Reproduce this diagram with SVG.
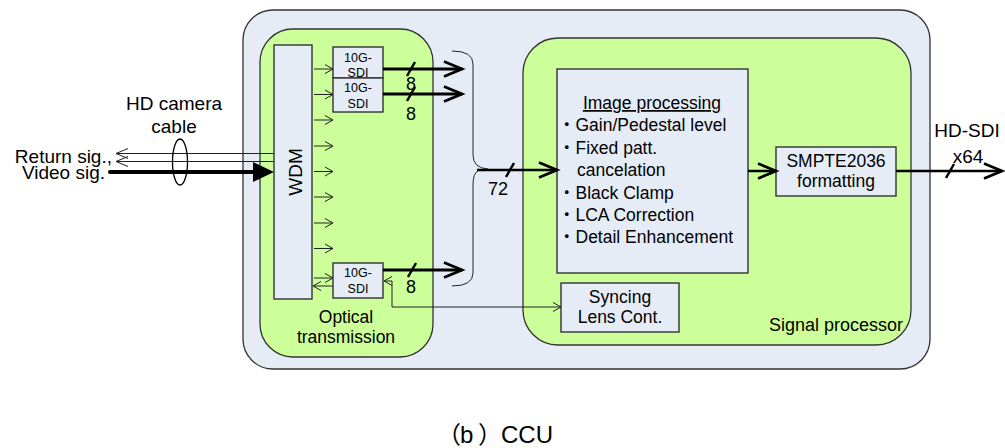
<svg xmlns="http://www.w3.org/2000/svg" width="1005" height="448" viewBox="0 0 1005 448">
<style>
.t{font-family:"Liberation Sans",Arial,"Noto Sans CJK JP",sans-serif;fill:#000}
.f17{font-size:17.5px}
.f19{font-size:19px}
.f18{font-size:18px}
.f12{font-size:12.5px}
.mid{text-anchor:middle}
.end{text-anchor:end}
.panel{fill:#E6ECF6;stroke:#333;stroke-width:1.3}
.green{fill:#CCFF99;stroke:#333;stroke-width:1.3}
.box{fill:#E6ECF6;stroke:#333;stroke-width:1.4}
.thin{stroke:#222;stroke-width:1;fill:none}
.thick{stroke:#000;stroke-width:3;fill:none}
.med{stroke:#000;stroke-width:2.5;fill:none}
.slash{stroke:#000;stroke-width:2.5;fill:none}
</style>
<defs>
<marker id="big" markerUnits="userSpaceOnUse" viewBox="-22 -11 24 22" markerWidth="24" markerHeight="22" refX="0" refY="0" orient="auto" overflow="visible">
<path d="M-18,-7.5 L0,0 L-18,7.5" fill="none" stroke="#000" stroke-width="2.8"/>
</marker>
<marker id="small" markerUnits="userSpaceOnUse" viewBox="-10 -6 12 12" markerWidth="12" markerHeight="12" refX="0" refY="0" orient="auto-start-reverse" overflow="visible">
<path d="M-8,-4.5 L0,0 L-8,4.5" fill="none" stroke="#222" stroke-width="1"/>
</marker>
<marker id="ret" markerUnits="userSpaceOnUse" viewBox="-14 -7 16 14" markerWidth="16" markerHeight="14" refX="0" refY="0" orient="auto" overflow="visible">
<path d="M-12,-5 L0,0 L-12,5" fill="none" stroke="#222" stroke-width="1"/>
</marker>
</defs>
<rect width="1005" height="448" fill="#fff"/>

<g id="ccu">
<rect class="panel" x="243" y="10" width="687" height="359" rx="30" ry="30"/>
</g>

<g id="optical-transmission">
<rect class="green" x="260" y="29" width="173" height="328" rx="33" ry="33"/>
<text class="t f17 mid" x="346" y="323">Optical</text>
<text class="t f17 mid" x="346" y="343">transmission</text>
</g>

<g id="signal-processor">
<rect class="green" x="523" y="38" width="388" height="307" rx="35" ry="35"/>
<text class="t f18 end" x="903" y="331">Signal processor</text>
</g>

<g id="wdm">
<rect class="box" x="274" y="45" width="38" height="254"/>
<text class="t f19 mid" transform="translate(302,172) rotate(-90)">WDM</text>
</g>

<g id="sdi1">
<rect class="box" x="333" y="47" width="50" height="31"/>
<text class="t f12 mid" x="358" y="62">10G-</text>
<text class="t f12 mid" x="358" y="76.5">SDI</text>
</g>
<g id="sdi2">
<rect class="box" x="333" y="78" width="50" height="34"/>
<text class="t f12 mid" x="358" y="92">10G-</text>
<text class="t f12 mid" x="358" y="107.5">SDI</text>
</g>
<g id="sdi3">
<rect class="box" x="333" y="263" width="50" height="35"/>
<text class="t f12 mid" x="358" y="277">10G-</text>
<text class="t f12 mid" x="358" y="293">SDI</text>
</g>

<g id="image-processing">
<rect class="box" x="557" y="69" width="191" height="204"/>
<text class="t f17 mid" x="652" y="109" text-decoration="underline">Image processing</text>
<text class="t f17" x="558" y="131.4">・Gain/Pedestal level</text>
<text class="t f17" x="558" y="153.8">・Fixed patt.</text>
<text class="t f17" x="577" y="176.2">cancelation</text>
<text class="t f17" x="558" y="198.6">・Black Clamp</text>
<text class="t f17" x="558" y="221">・LCA Correction</text>
<text class="t f17" x="558" y="243.4">・Detail Enhancement</text>
</g>

<g id="smpte">
<rect class="box" x="776" y="147" width="120" height="49"/>
<text class="t f17 mid" x="836" y="167">SMPTE2036</text>
<text class="t f17 mid" x="836" y="186.5">formatting</text>
</g>

<g id="syncing">
<rect class="box" x="561" y="283" width="118" height="49"/>
<text class="t f17 mid" x="620" y="303">Syncing</text>
<text class="t f17 mid" x="620" y="323">Lens Cont.</text>
</g>

<g id="connectors">
<line class="thin" x1="274" y1="153.5" x2="116" y2="153.5" marker-end="url(#ret)"/>
<line class="thin" x1="274" y1="161.5" x2="116" y2="161.5" marker-end="url(#ret)"/>
<line x1="110" y1="172" x2="256" y2="172" stroke="#000" stroke-width="4" stroke-linecap="round"/>
<polygon points="253,162 274,172 253,182" fill="#000"/>
<ellipse cx="180" cy="162" rx="7.5" ry="23" fill="none" stroke="#000" stroke-width="1.3"/>
<line class="thin" x1="314" y1="69" x2="333" y2="69" marker-end="url(#small)"/>
<line class="thin" x1="314" y1="94.5" x2="333" y2="94.5" marker-end="url(#small)"/>
<line class="thin" x1="314" y1="120" x2="333" y2="120" marker-end="url(#small)"/>
<line class="thin" x1="314" y1="146" x2="333" y2="146" marker-end="url(#small)"/>
<line class="thin" x1="314" y1="171.5" x2="333" y2="171.5" marker-end="url(#small)"/>
<line class="thin" x1="314" y1="197" x2="333" y2="197" marker-end="url(#small)"/>
<line class="thin" x1="314" y1="223" x2="333" y2="223" marker-end="url(#small)"/>
<line class="thin" x1="314" y1="248.5" x2="333" y2="248.5" marker-end="url(#small)"/>
<line class="thin" x1="314" y1="278" x2="333" y2="278" marker-end="url(#small)"/>
<line class="thin" x1="333" y1="286" x2="313" y2="286" marker-end="url(#small)"/>
<line class="thick" x1="383" y1="69" x2="462" y2="69" marker-end="url(#big)"/>
<line class="thick" x1="383" y1="94" x2="462" y2="94" marker-end="url(#big)"/>
<line class="thick" x1="383" y1="270" x2="462" y2="270" marker-end="url(#big)"/>
<line class="slash" x1="407" y1="76" x2="415" y2="62"/>
<line class="slash" x1="407" y1="101" x2="415" y2="87"/>
<line class="slash" x1="408" y1="277" x2="416" y2="263"/>
<text class="t f18 mid" x="411" y="89.5">8</text>
<text class="t f18 mid" x="411" y="119.5">8</text>
<text class="t f18 mid" x="411" y="292.5">8</text>
<path class="thin" d="M452,51 Q473,51 473,64 L473,155 Q473,168 488,169"/>
<path class="thin" d="M478,171 Q473,173 473,185 L473,273 Q473,286 452,286"/>
<line class="med" x1="477" y1="170" x2="557" y2="170" marker-end="url(#big)"/>
<line class="slash" x1="506" y1="177" x2="514" y2="163"/>
<text class="t f18 mid" x="498" y="195">72</text>
<line class="med" x1="748" y1="171" x2="776" y2="171" marker-end="url(#big)"/>
<line class="med" x1="896" y1="171" x2="1002" y2="171" marker-end="url(#big)"/>
<line class="slash" x1="946" y1="178" x2="954" y2="164"/>
<path class="thin" d="M384,281 L392,281 L392,307 L561,307" marker-start="url(#small)" marker-end="url(#small)"/>
</g>

<g id="labels">
<text class="t f19 mid" x="174" y="110">HD camera</text>
<text class="t f19 mid" x="174" y="133">cable</text>
<text class="t f19 end" x="112" y="162.5">Return sig.,</text>
<text class="t f19 end" x="105" y="179">Video sig.</text>
<text class="t f19 mid" x="967" y="137">HD-SDI</text>
<text class="t f19 mid" x="968" y="163">x64</text>
<text class="t" font-size="24" y="442.5" x="437 460 478 501">（b）CCU</text>
</g>
</svg>
